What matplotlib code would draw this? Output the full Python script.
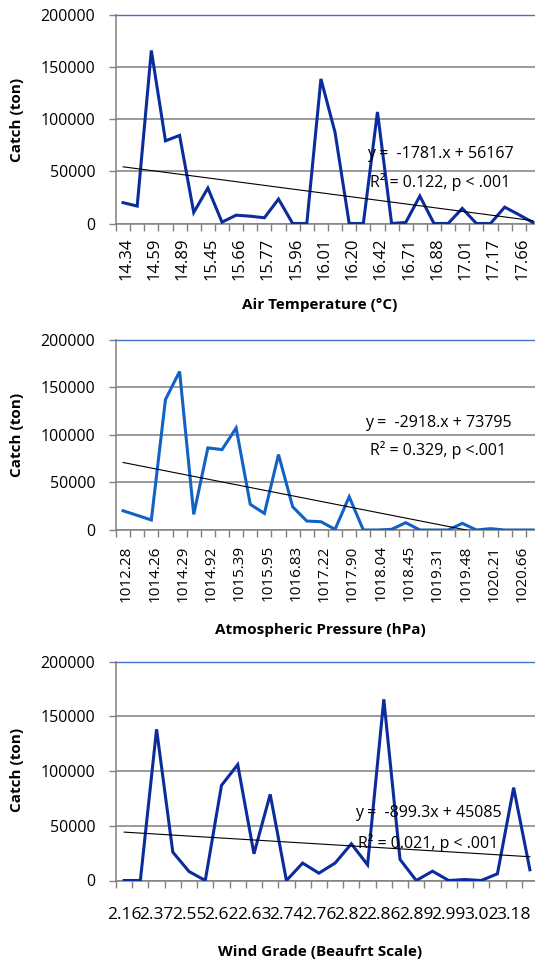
import numpy as np
import matplotlib.pyplot as plt
from matplotlib.ticker import FixedLocator

plt.rcParams['font.family'] = ['Open Sans', 'DejaVu Sans']

W, H = 535, 960

# panel 1: air temperature
temp_labels = ["14.34", "14.59", "14.89", "15.45", "15.66", "15.77", "15.96", "16.01",
               "16.20", "16.42", "16.71", "16.88", "17.01", "17.17", "17.66"]
temp_catch = [20000, 16700, 166000, 79300, 84500, 10600, 34000, 1300, 8000, 7000,
              5500, 23400, 0, 0, 138700, 87300, 0, 0, 107000, 0,
              1000, 26300, 0, 0, 14500, 0, 0, 15700, 8500, 1000]
temp_fit = (-1781, 56167)
temp_eq = ["y =  -1781.x + 56167", "R² = 0.122, p < .001"]

# panel 2: atmospheric pressure
pres_labels = ["1012.28", "1014.26", "1014.29", "1014.92", "1015.39", "1015.95", "1016.83",
               "1017.22", "1017.90", "1018.04", "1018.45", "1019.31", "1019.48", "1020.21",
               "1020.66"]
pres_catch = [20200, 15400, 10500, 137000, 166400, 16400, 86200, 84400, 107100, 26900,
              17400, 79200, 24400, 9400, 8700, 700, 34900, 0, 0, 700,
              7700, 0, 0, 0, 7000, 0, 1400, 0, 0, 0]
pres_fit = (-2918, 73795)
pres_eq = ["y =  -2918.x + 73795", "R² = 0.329, p <.001"]

# panel 3: wind grade
wind_labels = ["2.16", "2.37", "2.55", "2.62", "2.63", "2.74", "2.76", "2.82", "2.86",
               "2.89", "2.99", "3.02", "3.18"]
wind_catch = [0, 0, 138100, 25900, 8200, 0, 86900, 105800, 24400, 78700,
              0, 15900, 6700, 15900, 33500, 14300, 165500, 19200, 0, 8500,
              0, 900, 0, 6100, 84800, 9800]
wind_fit = (-899.3, 45085)
wind_eq = ["y =  -899.3x + 45085", "R² = 0.021, p < .001"]

y_ticks = [0, 50000, 100000, 150000, 200000]

fig = plt.figure(figsize=(W / 100, H / 100), dpi=100)


def px(x, y):
    return x / W, 1 - y / H


def panel(top, bottom, right, values, labels, color, fit, eq, eq_x, eq_y,
          xlabel, xlabel_y, ylabel_y, rotated, tick_fs, tick_pad):
    n = len(values)
    left = 116
    ax = fig.add_axes([left / W, 1 - bottom / H, (right - left) / W, (bottom - top) / H])
    pos = np.arange(n)
    ax.plot(pos, values, color=color, lw=2.2, solid_joinstyle='miter', zorder=3)
    xs = np.arange(1, n + 1)
    ax.plot(pos, fit[0] * xs + fit[1], color='black', lw=0.8, zorder=4)
    ax.set_xlim(-0.5, n - 0.5)
    ax.set_ylim(0, 200000)
    ax.set_yticks(y_ticks)
    ax.set_yticklabels([str(v) for v in y_ticks], fontsize=11.5)
    ax.grid(axis='y', color='#7f7f7f', lw=1.1)
    ax.set_axisbelow(True)
    ax.spines['right'].set_visible(False)
    ax.spines['top'].set_color('#4472C4')
    ax.spines['top'].set_linewidth(1.0)
    ax.spines['left'].set_color('#808080')
    ax.spines['bottom'].set_color('#808080')
    ax.spines['left'].set_linewidth(1.1)
    ax.spines['bottom'].set_linewidth(1.1)
    ax.tick_params(axis='y', length=5, width=1, color='#808080', pad=10)
    # category ticks between categories, labels on every second one
    ax.xaxis.set_minor_locator(FixedLocator(np.arange(n + 1) - 0.5))
    ax.tick_params(axis='x', which='minor', length=5, width=1, color='#808080')
    shift = 0.24 if rotated else 0.0
    ax.set_xticks(np.arange(0, n, 2)[:len(labels)] + shift)
    ax.set_xticklabels(labels, fontsize=tick_fs, rotation=90 if rotated else 0)
    ax.tick_params(axis='x', which='major', length=0, pad=tick_pad)
    for i, t in enumerate(eq):
        fig.text(*px(eq_x, eq_y[i]), t, fontsize=11.5, ha='center', va='center')
    fig.text(*px(320, xlabel_y), xlabel, fontsize=11, fontweight='bold', ha='center', va='center')
    fig.text(*px(17, ylabel_y), "Catch (ton)", fontsize=11, fontweight='bold',
             rotation=90, ha='center', va='center')
    return ax


panel(15, 223.5, 540, temp_catch, temp_labels, '#0B2C9C', temp_fit, temp_eq, 440, [154, 182],
      "Air Temperature (°C)", 305, 120, True, 12, 10)
panel(339.5, 530, 540, pres_catch, pres_labels, '#1262C6', pres_fit, pres_eq, 438, [423, 450],
      "Atmospheric Pressure (hPa)", 630, 435, True, 11, 11)
panel(661.5, 880.5, 538, wind_catch, wind_labels, '#0B2C9C', wind_fit, wind_eq, 428, [813, 843],
      "Wind Grade (Beaufrt Scale)", 952, 770, False, 12.5, 19)

fig.savefig("out.png", dpi=100)
